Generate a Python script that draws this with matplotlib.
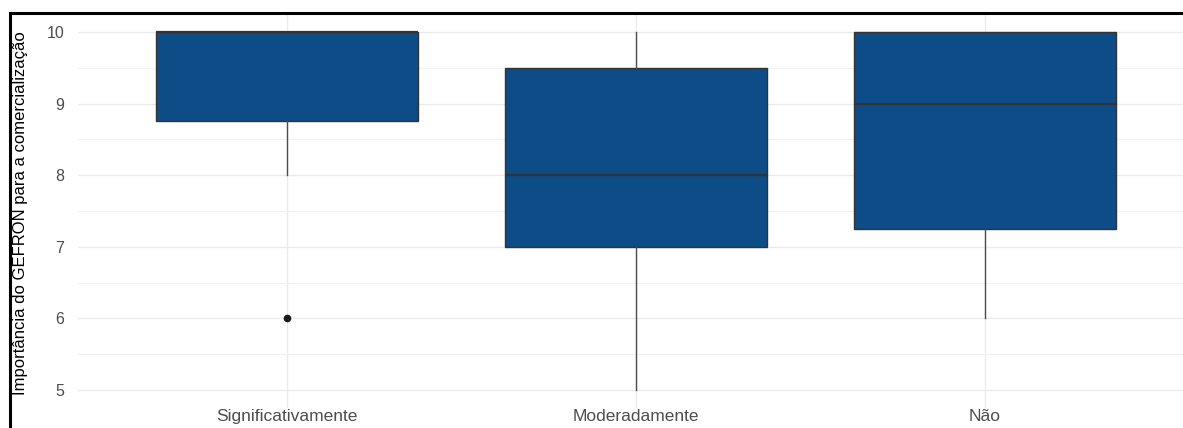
import matplotlib.pyplot as plt
from matplotlib.patches import Rectangle
from matplotlib.ticker import MultipleLocator

plt.rcParams['font.family'] = ['Liberation Sans', 'DejaVu Sans']

# ---------------- DATA ----------------
categories = ["Significativamente", "Moderadamente", "Não"]
whisker_low = [8, 5, 6]
q1 = [8.75, 7, 7.25]
median = [10, 8, 9]
q3 = [10, 9.5, 10]
whisker_high = [10, 10, 10]
outliers = [[6], [], []]

y_label = "Importância do GEFRON para a comercialização"

# ---------------- STATS FOR BXP ----------------
stats = []
for i, cat in enumerate(categories):
    stats.append({
        "label": cat,
        "whislo": whisker_low[i],
        "q1": q1[i],
        "med": median[i],
        "q3": q3[i],
        "whishi": whisker_high[i],
        "fliers": outliers[i],
    })

# ---------------- PLOT ----------------
fig = plt.figure(figsize=(11.83, 4.28), dpi=100)
ax = fig.add_axes([78 / 1183, 1 - 408 / 428, 1116 / 1183, 394 / 428])

ax.bxp(stats, positions=range(1, len(categories) + 1), widths=0.75,
       patch_artist=True, showcaps=False,
       boxprops=dict(facecolor="#0d4c87", edgecolor="#333333", linewidth=1.0),
       medianprops=dict(color="#333333", linewidth=1.6),
       whiskerprops=dict(color="#4d4d4d", linewidth=1.0),
       flierprops=dict(marker="o", markerfacecolor="#1a1a1a",
                       markeredgecolor="#1a1a1a", markersize=4.5))

ax.set_xlim(0.4, 3.6)
ax.set_ylim(4.75, 10.25)
ax.yaxis.set_major_locator(MultipleLocator(1))
ax.yaxis.set_minor_locator(MultipleLocator(0.5))

ax.grid(which="major", color="#ebebeb", linewidth=1.0)
ax.grid(which="minor", axis="y", color="#f2f2f2", linewidth=0.8)
ax.set_axisbelow(True)

for s in ax.spines.values():
    s.set_visible(False)
ax.tick_params(which="both", length=0, colors="#4d4d4d", labelsize=11.5)
ax.tick_params(axis="y", pad=10)
ax.tick_params(axis="x", pad=1)
ax.set_xticklabels(categories, fontsize=12.5)

fig.text(21 / 1183, 1 - 213 / 428, y_label, rotation=90, ha="center",
         va="center", fontsize=12, color="black")

# black frame around the (cropped) screenshot
fig.patches.append(Rectangle((10 / 1183, -0.1), 1.1, 1 - 13 / 428 + 0.1,
                             transform=fig.transFigure, fill=False,
                             edgecolor="black", linewidth=2.2))

plt.savefig("out.png", dpi=100)
